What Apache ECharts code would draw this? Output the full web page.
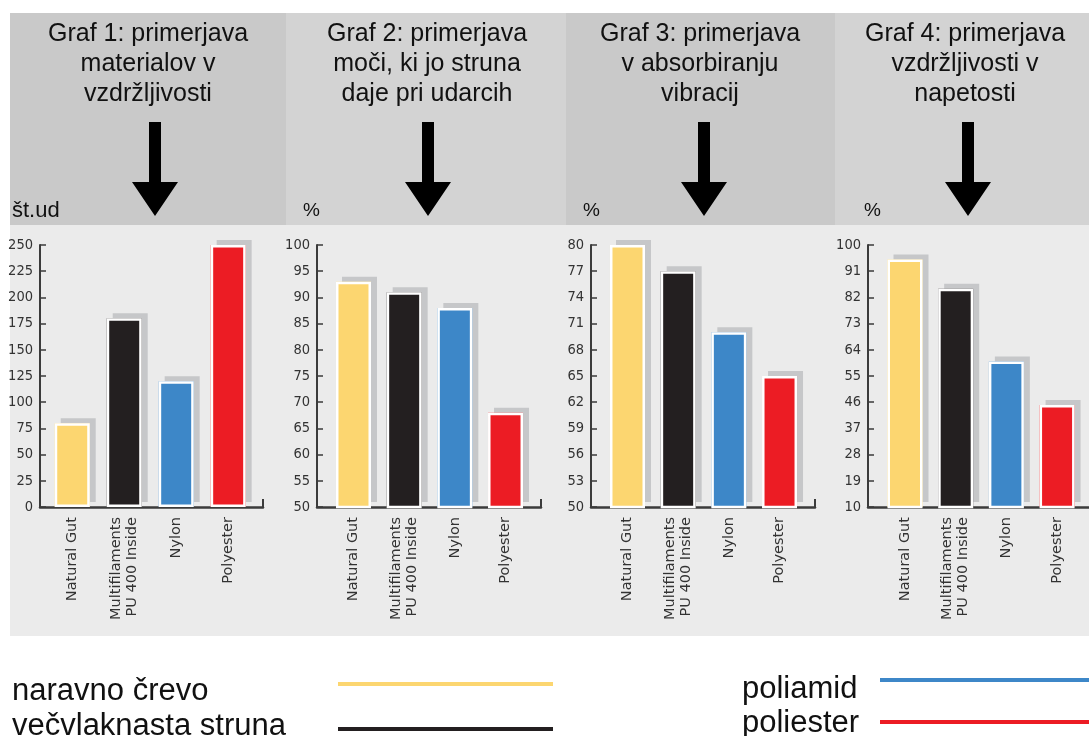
<!DOCTYPE html>
<html>
<head>
<meta charset="utf-8">
<script src="https://cdn.jsdelivr.net/npm/echarts@6/dist/echarts.min.js"></script>
<style>
  html, body { margin: 0; padding: 0; background: #ffffff; }
  #chart { width: 1089px; height: 736px; }
</style>
</head>
<body>
<div id="chart"></div>
<script>
// ---- data ----
const categories = ["Natural Gut", "Multifilaments\nPU 400 Inside", "Nylon", "Polyester"];
const barColors = ["#fcd670", "#231f20", "#3d87c8", "#ec1c24"];

const enduranceHits = [80, 180, 120, 250];   // Graf 1 (št.ud)
const powerPct      = [93, 91, 88, 68];      // Graf 2 (%)
const vibrationPct  = [80, 77, 70, 65];      // Graf 3 (%)
const tensionPct    = [95, 85, 60, 45];      // Graf 4 (%)

const ticks1 = [0, 25, 50, 75, 100, 125, 150, 175, 200, 225, 250];
const ticks2 = [50, 55, 60, 65, 70, 75, 80, 85, 90, 95, 100];
const ticks3 = [50, 53, 56, 59, 62, 65, 68, 71, 74, 77, 80];
const ticks4 = [10, 19, 28, 37, 46, 55, 64, 73, 82, 91, 100];

const titles = [
  ["Graf 1: primerjava", "materialov v", "vzdržljivosti"],
  ["Graf 2: primerjava", "moči, ki jo struna", "daje pri udarcih"],
  ["Graf 3: primerjava", "v absorbiranju", "vibracij"],
  ["Graf 4: primerjava", "vzdržljivosti v", "napetosti"]
];
const units = ["št.ud", "%", "%", "%"];
const legendLabels = ["naravno črevo", "večvlaknasta struna", "poliamid", "poliester"];

const seriesValues = [enduranceHits, powerPct, vibrationPct, tensionPct];
const seriesTicks = [ticks1, ticks2, ticks3, ticks4];

// ---- layout ----
const panelLayout = [
  { x0: 10,  x1: 286,  head: "#c9c9c9", axisX: 40,  axisEnd: 263,  xMin: -0.62, xMax: 3.67, endTick: true,  titleX: 148, arrowX: 155, unitX: 12 },
  { x0: 286, x1: 566,  head: "#d3d3d3", axisX: 317, axisEnd: 541,  xMin: -0.72, xMax: 3.70, endTick: true,  titleX: 427, arrowX: 428, unitX: 303 },
  { x0: 566, x1: 835,  head: "#c9c9c9", axisX: 591, axisEnd: 815,  xMin: -0.72, xMax: 3.70, endTick: true,  titleX: 700, arrowX: 704, unitX: 583 },
  { x0: 835, x1: 1089, head: "#d3d3d3", axisX: 868, axisEnd: 1089, xMin: -0.73, xMax: 3.63, endTick: false, titleX: 965, arrowX: 968, unitX: 864 }
];
const headTop = 13, headBottom = 225, bodyBottom = 636;
const plotTop = 245, plotHeight = 262;

const axisColor = "#3b3b3b";
const sansFont = "'Liberation Sans', Arial, sans-serif";
const narrowFont = "'Liberation Sans Narrow', 'DejaVu Sans Condensed', sans-serif";
const labelFont = "'DejaVu Sans', Verdana, sans-serif";

const chart = echarts.init(document.getElementById("chart"), null, { renderer: "canvas" });

const grids = [], xAxes = [], yAxes = [], series = [], graphics = [];

// body background
graphics.push({
  type: "rect", z: -100, silent: true,
  shape: { x: 10, y: headBottom, width: 1079, height: bodyBottom - headBottom },
  style: { fill: "#ebebeb" }
});

panelLayout.forEach((p, i) => {
  const ticks = seriesTicks[i];

  // header block
  graphics.push({
    type: "rect", z: -100, silent: true,
    shape: { x: p.x0, y: headTop, width: p.x1 - p.x0, height: headBottom - headTop },
    style: { fill: p.head }
  });
  titles[i].forEach((line, k) => {
    graphics.push({
      type: "text", silent: true,
      style: {
        x: p.titleX, y: 34 + k * 30, text: line,
        font: "25px " + sansFont, fill: "#111111",
        align: "center", verticalAlign: "middle",
        textAlign: "center", textVerticalAlign: "middle"
      }
    });
  });
  // down arrow
  const ax = p.arrowX;
  graphics.push({
    type: "polygon", silent: true,
    shape: { points: [
      [ax - 6, 122], [ax + 6, 122], [ax + 6, 182], [ax + 23, 182],
      [ax, 216], [ax - 23, 182], [ax - 6, 182]
    ] },
    style: { fill: "#000000" }
  });
  // unit label
  graphics.push({
    type: "text", silent: true,
    style: {
      x: p.unitX, y: 211, text: units[i],
      font: (i === 0 ? "22px " : "19px ") + sansFont, fill: "#111111",
      align: "left", verticalAlign: "middle",
      textAlign: "left", textVerticalAlign: "middle"
    }
  });

  grids.push({
    left: p.axisX, top: plotTop, width: p.axisEnd - p.axisX, height: plotHeight,
    containLabel: false, outerBoundsMode: "none"
  });

  xAxes.push({
    gridIndex: i, type: "value", min: p.xMin, max: p.xMax,
    axisLine: { show: true, onZero: false, lineStyle: { color: axisColor, width: 2.5 } },
    axisTick: {
      show: p.endTick, inside: true, length: 8,
      customValues: [p.xMax],
      lineStyle: { color: axisColor, width: 2 }
    },
    axisLabel: {
      customValues: categories.map((_, k) => k),
      formatter: (v) => categories[Math.round(v)],
      rotate: 90, margin: 10,
      fontFamily: labelFont, fontSize: 14.5, lineHeight: 16, color: "#333333"
    },
    splitLine: { show: false }
  });

  yAxes.push({
    gridIndex: i, type: "value", min: ticks[0], max: ticks[ticks.length - 1],
    axisLine: { show: true, onZero: false, lineStyle: { color: axisColor, width: 2 } },
    axisTick: {
      show: true, inside: true, length: 6, customValues: ticks,
      lineStyle: { color: axisColor, width: 1.5 }
    },
    axisLabel: {
      customValues: ticks, margin: 7,
      fontFamily: narrowFont, fontSize: 14.5, color: "#333333"
    },
    splitLine: { show: false }
  });

  const barData = seriesValues[i].map((v, k) => ({ value: [k, v], itemStyle: { color: barColors[k] } }));

  // coloured bars casting a flat grey offset shadow
  series.push({
    type: "bar", xAxisIndex: i, yAxisIndex: i,
    barWidth: 35, clip: true, silent: true, animation: false, z: 2,
    itemStyle: {
      shadowColor: "#c6c7c9", shadowBlur: 0, shadowOffsetX: 6, shadowOffsetY: -5
    },
    data: barData
  });
  // white outline drawn over the same bars
  series.push({
    type: "bar", xAxisIndex: i, yAxisIndex: i,
    barWidth: 35, barGap: "-100%", clip: true, silent: true, animation: false, z: 3,
    itemStyle: { color: "rgba(0,0,0,0)", borderColor: "#ffffff", borderWidth: 2.5 },
    data: seriesValues[i].map((v, k) => [k, v])
  });
});

// legend: label text followed by a line in the series colour
const legendLayout = [
  { tx: 12,  ty: 691, lx1: 338, lx2: 553,  ly: 684 },
  { tx: 12,  ty: 726, lx1: 338, lx2: 553,  ly: 729 },
  { tx: 742, ty: 689, lx1: 880, lx2: 1089, ly: 680 },
  { tx: 742, ty: 723, lx1: 880, lx2: 1089, ly: 722 }
];
legendLabels.forEach((name, k) => {
  const l = legendLayout[k];
  graphics.push({
    type: "text", silent: true,
    style: {
      x: l.tx, y: l.ty, text: name,
      font: "31px " + sansFont, fill: "#111111",
      align: "left", verticalAlign: "middle",
      textAlign: "left", textVerticalAlign: "middle"
    }
  });
  graphics.push({
    type: "line", silent: true,
    shape: { x1: l.lx1, y1: l.ly, x2: l.lx2, y2: l.ly },
    style: { stroke: barColors[k], lineWidth: 4 }
  });
});

chart.setOption({
  backgroundColor: "#ffffff",
  animation: false,
  grid: grids,
  xAxis: xAxes,
  yAxis: yAxes,
  series: series,
  graphic: { elements: graphics }
});
</script>
</body>
</html>
